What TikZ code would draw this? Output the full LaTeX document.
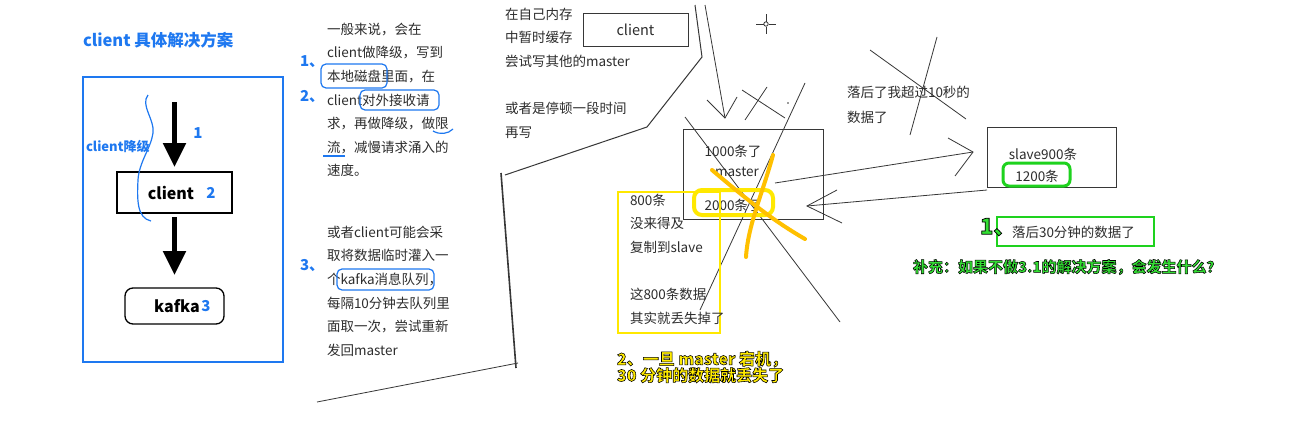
\documentclass[tikz,border=0pt]{standalone}
\usepackage{fontspec}
\setmainfont{Noto Sans CJK SC}
\newfontfamily\olfont{Noto Sans CJK SC}[BoldFeatures={FakeBold=3.5}]
\usetikzlibrary{arrows.meta}
\definecolor{tblue}{RGB}{30,120,240}
\definecolor{tgray}{RGB}{45,45,45}
\definecolor{lgray}{RGB}{55,55,55}
\definecolor{hyellow}{RGB}{255,232,0}
\definecolor{horange}{RGB}{255,192,0}
\definecolor{hgreen}{RGB}{30,210,30}
\newcommand{\ylwtext}[1]{\special{pdf:bcolor [1 0.92 0] [0 0 0]}#1\special{pdf:ecolor}}
\newcommand{\grntext}[1]{\special{pdf:bcolor [0.2 0.87 0.2] [0 0 0]}#1\special{pdf:ecolor}}
\begin{document}
\begin{tikzpicture}[x=1pt,y=-1pt,
  every node/.style={inner sep=0pt, outer sep=0pt, text=tgray, font=\fontsize{13.5}{23.6}\selectfont},
  para/.style={anchor=north west, align=left},
  blbl/.style={text=tblue, font=\fontsize{15}{17}\selectfont\bfseries},
  bigtxt/.style={text=black, font=\fontsize{16}{18}\selectfont\bfseries},
  scrib/.style={draw=lgray, line width=0.8pt},
  boxline/.style={draw=lgray, line width=1pt},
  hilite/.style={draw=tblue, line width=1.2pt, rounded corners=5pt},
  bigarrow/.style={line width=5pt, -{Triangle[width=22pt,length=24pt]}},
]
\useasboundingbox (0,0) rectangle (1293,434);
\fill[white] (0,0) rectangle (1293,434);

% ---------- left panel ----------
\node[anchor=west, text=tblue, font=\fontsize{16.5}{18}\selectfont\bfseries] (title) at (83,40) {client 具体解决方案};
\draw[tblue, line width=2pt] (83,77) rectangle (283,362);
\node[draw=black, line width=1.3pt, minimum width=115pt, minimum height=41pt] (cbox) at (174.5,192.5) {};
\node[bigtxt] (ctext) at (171,193) {client};
\node[blbl] (n2) at (211,193) {2};
\node[draw=black, line width=1.3pt, rounded corners=8pt, minimum width=99pt, minimum height=36pt] (kbox) at (174.5,306) {};
\node[bigtxt] (ktext) at (177,306) {kafka};
\node[blbl] (n3) at (206,306) {3};
\node[blbl] (n1) at (198,133) {1};
\coordinate (astart) at (174.5,102);
\draw[bigarrow] (astart) -- ([yshift=5pt]cbox.north);
\draw[bigarrow] ([yshift=-4pt]cbox.south) -- ([yshift=13pt]kbox.north);
\draw[tblue, line width=1.2pt] (148,95) .. controls (140,105) and (155,120) .. (153,133)
  .. controls (151,148) and (139,162) .. (138,180) .. controls (137,200) and (137,218) .. (151,221);
\node[anchor=west, text=tblue, font=\fontsize{13}{15}\selectfont\bfseries] (degrade) at (86,147) {client降级};

% ---------- column 1 ----------
\node[blbl, anchor=west] (l1) at (300,62) {1、};
\node[blbl, anchor=west] (l2) at (300,97) {2、};
\node[blbl, anchor=west] (l3) at (300,266) {3、};
\node[para] (p1) at (327,23) {一般来说，会在\\client做降级，写到\\本地磁盘里面，在\\client对外接收请\\求，再做降级，做限\\流，减慢请求涌入的\\速度。};
\draw[hilite] (321,64) rectangle (387,88);
\draw[hilite] (360,90) rectangle (439,110);
\draw[tblue, line width=1.2pt] (433,131) .. controls (440,135) and (448,134) .. (453,129);
\draw[tblue, line width=1.2pt] (323,156) -- (345,156);
\node[para] (p2) at (327,226) {或者client可能会采\\取将数据临时灌入一\\个kafka消息队列，\\每隔10分钟去队列里\\面取一次，尝试重新\\发回master};
\draw[hilite] (337,269) rectangle (434,290);

% ---------- freehand strokes ----------
\draw[scrib, line width=1pt] (695,5) -- (702,57) -- (647,127) -- (505,175);
\draw[draw=lgray, line width=1.6pt] (501,173) -- (516,368);
\draw[scrib] (317,402) -- (518,363);
\draw[scrib] (705,5) -- (725,118);
\draw[scrib] (707,100) -- (725,118) -- (737,97);
\draw[scrib] (742,90) -- (785,118);
\draw[scrib] (767,87) -- (745,120);
\draw[scrib] (805,83) -- (700,310);
\draw[scrib] (685,117) -- (840,322);
\draw[scrib] (870,50) -- (966,119);
\draw[scrib] (937,37) -- (910,135);
\fill[lgray] (788,103) circle (0.8);
% crosshair
\draw[lgray, line width=0.8pt] (756,24) -- (763.5,24) (768.5,24) -- (776,24) (766,14) -- (766,21.5) (766,26.5) -- (766,34);
\draw[lgray, line width=0.8pt] (766,24) circle (2.2);

% ---------- top text & client ----------
\node[para] (p3) at (505,8) {在自己内存\\中暂时缓存\\尝试写其他的master\\\mbox{}\\或者是停顿一段时间\\再写};
\node[boxline, minimum width=105pt, minimum height=33pt, font=\fontsize{14.5}{16}\selectfont] (client2) at (635.5,29.5) {client};

% ---------- master ----------
\node[boxline, minimum width=140pt, minimum height=90pt] (master) at (753,174) {};
\node (m1) at (733,151) {1000条了};
\node (m2) at (737,172) {master};
\node (m3) at (733,205) {2000条了};
\draw[hyellow, line width=4pt, rounded corners=8pt] (694,190) rectangle (773,215);
\draw[hyellow, line width=2pt] (618,192) rectangle (720,333);
\node[para] (p4) at (630,194) {800条\\没来得及\\复制到slave\\\mbox{}\\这800条数据\\其实就丢失掉了};
\draw[horange, line width=4pt, line cap=round] (712,170) .. controls (745,198) and (772,220) .. (805,239);
\draw[horange, line width=4pt, line cap=round] (773,155) .. controls (762,195) and (748,225) .. (746,257);
\node[para, font=\fontsize{16}{16.5}\selectfont] (ylabel) at (617,351) {{\olfont\bfseries\ylwtext{2、一旦 master 宕机，}}\\{\olfont\bfseries\ylwtext{30 分钟的数据就丢失了}}};

% ---------- slave ----------
\node[boxline, minimum width=129pt, minimum height=60pt] (slave) at (1051.5,157) {};
\node (s1) at (1043,154) {slave900条};
\node (s2) at (1037,176) {1200条};
\draw[hgreen, line width=3pt, rounded corners=6pt] (1003,163) rectangle (1070,186);
\node[para, font=\fontsize{13.5}{25}\selectfont] (p5) at (847,86) {落后了我超过10秒的\\数据了};

% arrows between master and slave
\coordinate (toS0) at (775,183);
\coordinate (toS1) at (973,152);
\draw[scrib] (toS0) -- (toS1);
\draw[scrib] (948,138) -- (toS1) -- (955,176);
\coordinate (toM0) at (987,190);
\coordinate (toM1) at (807,206);
\draw[scrib] (toM0) -- (toM1);
\draw[scrib] (837,190) -- (toM1) -- (842,223);

% ---------- green notes ----------
\node[draw=hgreen, line width=2pt, minimum width=157pt, minimum height=29pt] (gbox) at (1075.5,231.5) {};
\node[anchor=west] (gtext) at (1012,232) {落后30分钟的数据了};
\node[anchor=west, font=\fontsize{22}{24}\selectfont] (g1) at (980,227) {{\olfont\bfseries\grntext{1、}}};
\node[anchor=west, font=\fontsize{15}{17}\selectfont] (g2) at (913,267) {{\olfont\bfseries\grntext{补充：如果不做3.1的解决方案，会发生什么？}}};
\end{tikzpicture}
\end{document}
